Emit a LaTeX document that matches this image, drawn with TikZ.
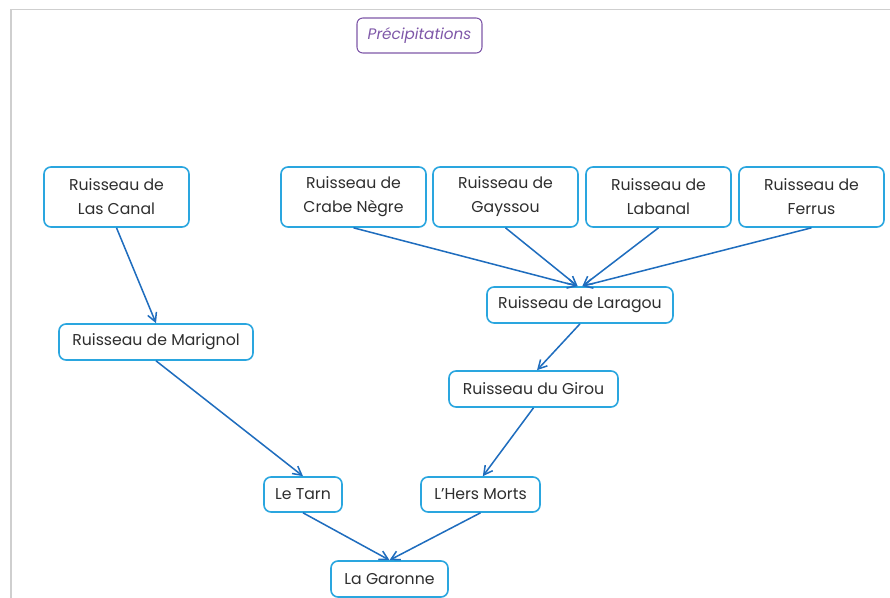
\documentclass[tikz,border=0pt]{standalone}
\usepackage{fontspec}
\setmainfont{Poppins}
\usepackage{tikz}
\usetikzlibrary{
    arrows.meta,
    positioning
}

\definecolor{riverblue}{HTML}{2AA6DF}
\definecolor{flowblue}{HTML}{1F6DBE}
\definecolor{rainpurple}{HTML}{7E57A8}
\definecolor{framegray}{HTML}{CFCFCF}
\definecolor{textgray}{HTML}{2E2E2E}

\begin{document}
\begin{tikzpicture}[
    x=0.03cm, y=-0.03cm,
    river/.style={
      draw=riverblue,
      line width=1.4pt,
      rounded corners=6pt,
      fill=white,
      text=textgray,
      align=center,
      font=\fontsize{13.4}{20.5}\selectfont,
      inner sep=0pt
    },
    flow/.style={
      draw=flowblue,
      line width=1.3pt,
      -{Straight Barb[length=2.6mm,width=2.8mm]}
    }
  ]

  \useasboundingbox (0,0) rectangle (890,598);
  \draw[framegray, line width=1pt] (890,9.5) -- (11,9.5) -- (11,598);

  % rain {{{
  \node[
    draw=rainpurple,
    line width=0.9pt,
    rounded corners=5pt,
    text=rainpurple,
    font=\itshape\fontsize{13}{15}\selectfont,
    minimum width=3.75cm,
    minimum height=1.05cm,
    inner sep=0pt
  ] (rain) at (419.5,35.5) {Précipitations};
  % }}}

  % sources {{{
  \node[river, minimum width=4.35cm, minimum height=1.8cm] (lascanal) at (116.5,197)
    {Ruisseau de\\Las Canal};
  \node[river, minimum width=4.35cm, minimum height=1.8cm] (crabe) at (353.5,197)
    {Ruisseau de\\Crabe Nègre};
  \node[river, minimum width=4.35cm, minimum height=1.8cm] (gayssou) at (505.5,197)
    {Ruisseau de\\Gayssou};
  \node[river, minimum width=4.35cm, minimum height=1.8cm] (labanal) at (658.5,197)
    {Ruisseau de\\Labanal};
  \node[river, minimum width=4.35cm, minimum height=1.8cm] (ferrus) at (811.5,197)
    {Ruisseau de\\Ferrus};
  % }}}

  % middle streams {{{
  \node[river, minimum width=5.82cm, minimum height=1.08cm] (marignol) at (156,342)
    {Ruisseau de Marignol};
  \node[river, minimum width=5.58cm, minimum height=1.08cm] (laragou) at (580,305)
    {Ruisseau de Laragou};
  \node[river, minimum width=5.07cm, minimum height=1.08cm] (girou) at (533.5,389)
    {Ruisseau du Girou};
  % }}}

  % rivers {{{
  \node[river, minimum width=2.34cm, minimum height=1.05cm] (tarn) at (303,494.5)
    {Le Tarn};
  \node[river, minimum width=3.57cm, minimum height=1.05cm] (hers) at (480.5,494.5)
    {L’Hers Morts};
  \node[river, minimum width=3.51cm, minimum height=1.08cm] (garonne) at (389.5,579)
    {La Garonne};
  % }}}

  % flows {{{
  \draw[flow] (lascanal.south) -- (marignol.north);
  \draw[flow] (crabe.south) -- ([xshift=-2]laragou.north);
  \draw[flow] (gayssou.south) -- ([xshift=-2]laragou.north);
  \draw[flow] (labanal.south) -- ([xshift=2]laragou.north);
  \draw[flow] (ferrus.south) -- ([xshift=2]laragou.north);
  \draw[flow] (laragou.south) -- ([xshift=3]girou.north);
  \draw[flow] (marignol.south) -- (tarn.north);
  \draw[flow] (girou.south) -- ([xshift=2]hers.north);
  \draw[flow] (tarn.south) -- (garonne.north);
  \draw[flow] (hers.south) -- (garonne.north);
  % }}}

\end{tikzpicture}
\end{document}
